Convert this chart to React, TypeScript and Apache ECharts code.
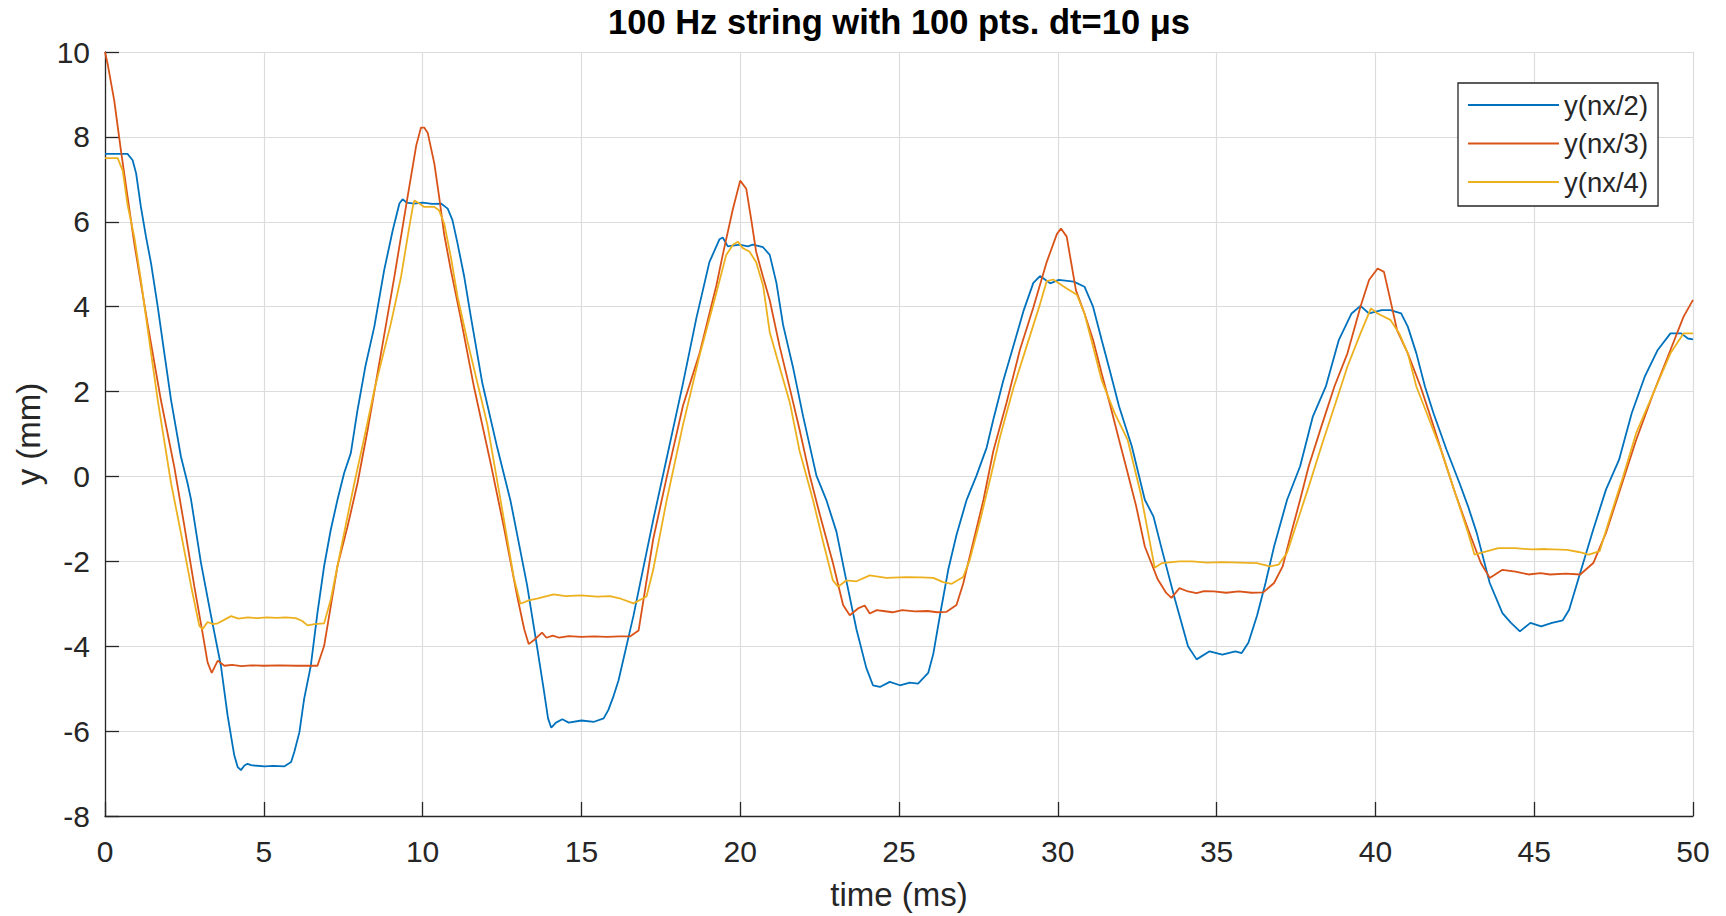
import React, { useEffect, useRef } from "react";
import * as echarts from "echarts";

const titleText = "100 Hz string with 100 pts. dt=10 \u03bcs";
const xName = "time (ms)";
const yName = "y (mm)";
const seriesNames = ["y(nx/2)", "y(nx/3)", "y(nx/4)"];
const seriesColors = ["#0072BD", "#D95319", "#EDB120"];

// y(nx/2): [time ms, y mm]
const ynx2: [number, number][] = [
  [0, 7.6], [0.4, 7.6], [0.71, 7.6], [0.87, 7.45], [0.98, 7.14], [1.13, 6.35], [1.29, 5.65], [1.45, 5.02],
  [1.66, 4.0], [1.85, 3.0], [2.08, 1.8], [2.39, 0.47], [2.6, -0.16], [2.71, -0.55], [3.02, -2.03], [3.34, -3.29],
  [3.65, -4.46], [3.86, -5.63], [4.07, -6.57], [4.18, -6.85], [4.28, -6.92], [4.39, -6.81], [4.49, -6.77],
  [4.6, -6.8], [4.7, -6.81], [5.02, -6.83], [5.3, -6.82], [5.65, -6.83], [5.86, -6.73], [5.96, -6.49],
  [6.12, -6.03], [6.27, -5.24], [6.48, -4.46], [6.69, -3.21], [6.9, -2.11], [7.11, -1.25], [7.32, -0.55],
  [7.53, 0.08], [7.74, 0.55], [7.95, 1.56], [8.2, 2.6], [8.48, 3.53], [8.79, 4.86], [9.06, 5.8], [9.27, 6.43],
  [9.37, 6.53], [9.5, 6.45], [9.74, 6.43], [10.0, 6.45], [10.3, 6.42], [10.58, 6.43], [10.79, 6.31],
  [10.94, 6.04], [11.1, 5.49], [11.31, 4.71], [11.52, 3.76], [11.88, 2.2], [12.35, 0.68], [12.77, -0.58],
  [13.29, -2.56], [13.6, -4.0], [13.81, -5.0], [13.95, -5.7], [14.05, -5.92], [14.2, -5.8], [14.4, -5.72],
  [14.6, -5.8], [15.0, -5.75], [15.4, -5.78], [15.7, -5.7], [15.85, -5.5], [16.0, -5.2], [16.17, -4.8],
  [16.64, -3.28], [17.26, -1.03], [17.68, 0.41], [18.2, 2.2], [18.62, 3.73], [19.03, 5.05], [19.35, 5.59],
  [19.45, 5.63], [19.61, 5.42], [19.98, 5.46], [20.24, 5.42], [20.4, 5.46], [20.72, 5.4], [20.93, 5.22],
  [21.14, 4.56], [21.35, 3.57], [21.66, 2.58], [21.98, 1.42], [22.4, 0.02], [22.71, -0.55], [23.03, -1.3],
  [23.34, -2.45], [23.66, -3.6], [23.97, -4.51], [24.18, -4.92], [24.4, -4.96], [24.71, -4.84], [25.03, -4.92],
  [25.34, -4.86], [25.6, -4.88], [25.92, -4.63], [26.08, -4.18], [26.29, -3.27], [26.55, -2.2], [26.81, -1.38],
  [27.13, -0.55], [27.44, 0.02], [27.76, 0.68], [27.97, 1.34], [28.28, 2.25], [28.6, 3.07], [28.92, 3.9],
  [29.23, 4.56], [29.44, 4.72], [29.76, 4.55], [30.03, 4.63], [30.5, 4.59], [30.84, 4.47], [31.11, 4.0],
  [31.38, 3.22], [31.66, 2.43], [31.93, 1.65], [32.33, 0.71], [32.74, -0.55], [33.01, -0.94], [33.28, -1.73],
  [33.69, -2.9], [34.1, -4.0], [34.37, -4.31], [34.78, -4.12], [35.18, -4.2], [35.59, -4.12], [35.79, -4.16],
  [36.0, -3.92], [36.27, -3.29], [36.54, -2.51], [36.81, -1.65], [37.22, -0.55], [37.63, 0.24], [38.03, 1.41],
  [38.44, 2.12], [38.85, 3.22], [39.25, 3.84], [39.53, 4.02], [39.8, 3.84], [40.2, 3.92], [40.47, 3.92],
  [40.81, 3.84], [41.02, 3.53], [41.29, 2.9], [41.56, 2.12], [41.83, 1.49], [42.24, 0.63], [42.65, -0.16],
  [42.92, -0.71], [43.19, -1.33], [43.6, -2.51], [44.0, -3.22], [44.27, -3.45], [44.55, -3.65], [44.88, -3.45],
  [45.22, -3.53], [45.56, -3.45], [45.9, -3.39], [46.1, -3.14], [46.45, -2.27], [46.86, -1.25], [47.26, -0.31],
  [47.67, 0.39], [48.07, 1.49], [48.48, 2.35], [48.89, 2.98], [49.29, 3.37], [49.63, 3.37], [49.84, 3.25],
  [50, 3.23],
];

// y(nx/3)
const ynx3: [number, number][] = [
  [0, 10], [0.08, 9.73], [0.29, 8.86], [0.5, 7.69], [0.71, 6.59], [0.92, 5.5], [1.13, 4.55], [1.34, 3.6],
  [1.76, 1.8], [2.18, 0.23], [2.5, -1.17], [2.81, -2.58], [3.07, -3.68], [3.23, -4.38], [3.36, -4.63],
  [3.55, -4.34], [3.76, -4.46], [4.0, -4.44], [4.3, -4.47], [4.6, -4.45], [5.0, -4.46], [5.5, -4.45],
  [6.0, -4.46], [6.4, -4.46], [6.69, -4.46], [6.9, -3.99], [7.11, -3.05], [7.32, -2.11], [7.64, -1.17],
  [7.95, -0.16], [8.27, 1.1], [8.69, 2.9], [9.11, 4.7], [9.53, 6.6], [9.8, 7.8], [9.95, 8.22], [10.05, 8.22],
  [10.16, 8.1], [10.37, 7.37], [10.52, 6.59], [10.68, 5.7], [10.89, 4.86], [11.2, 3.73], [11.62, 2.1],
  [12.14, 0.32], [12.56, -1.2], [12.98, -2.83], [13.2, -3.6], [13.34, -3.95], [13.5, -3.86], [13.76, -3.68],
  [13.9, -3.8], [14.1, -3.75], [14.3, -3.8], [14.6, -3.76], [15.0, -3.78], [15.4, -3.77], [15.8, -3.78],
  [16.2, -3.77], [16.53, -3.77], [16.8, -3.63], [17.26, -1.48], [17.68, -0.04], [18.2, 1.67], [18.72, 2.9],
  [19.25, 4.5], [19.45, 5.22], [19.77, 6.3], [20.0, 6.97], [20.19, 6.78], [20.35, 6.04], [20.5, 5.3],
  [20.72, 4.7], [20.93, 4.15], [21.24, 3.07], [21.56, 2.08], [21.87, 1.1], [22.19, 0.02], [22.5, -0.88],
  [22.92, -2.04], [23.24, -3.03], [23.45, -3.27], [23.71, -3.11], [23.92, -3.04], [24.08, -3.23], [24.3, -3.15],
  [24.5, -3.17], [24.8, -3.2], [25.1, -3.15], [25.5, -3.18], [25.9, -3.17], [26.2, -3.2], [26.5, -3.19],
  [26.81, -3.03], [27.02, -2.53], [27.34, -1.54], [27.66, -0.55], [27.97, 0.6], [28.39, 1.75], [28.81, 2.99],
  [29.23, 3.98], [29.65, 5.05], [29.97, 5.71], [30.1, 5.84], [30.28, 5.65], [30.43, 5.0], [30.57, 4.39],
  [30.84, 3.84], [31.11, 3.22], [31.38, 2.43], [31.66, 1.65], [31.93, 0.86], [32.2, 0.08], [32.47, -0.71],
  [32.74, -1.65], [33.15, -2.43], [33.42, -2.75], [33.58, -2.86], [33.83, -2.63], [34.1, -2.71], [34.37, -2.75],
  [34.6, -2.7], [34.91, -2.71], [35.3, -2.74], [35.7, -2.71], [36.1, -2.74], [36.47, -2.73], [36.81, -2.51],
  [37.08, -2.12], [37.35, -1.33], [37.63, -0.55], [37.9, 0.24], [38.3, 1.18], [38.71, 2.12], [39.12, 2.9],
  [39.53, 4.0], [39.8, 4.63], [40.07, 4.9], [40.27, 4.82], [40.47, 4.16], [40.68, 3.45], [41.02, 2.9],
  [41.42, 2.12], [41.7, 1.49], [42.1, 0.55], [42.51, -0.39], [42.92, -1.25], [43.32, -2.04], [43.6, -2.39],
  [44.0, -2.2], [44.41, -2.24], [44.82, -2.31], [45.2, -2.28], [45.5, -2.31], [46.0, -2.29], [46.45, -2.31],
  [46.86, -2.04], [47.26, -1.33], [47.67, -0.39], [48.21, 0.86], [48.75, 1.96], [49.29, 2.98], [49.7, 3.76],
  [50, 4.16],
];

// y(nx/4)
const ynx4: [number, number][] = [
  [0, 7.5], [0.4, 7.5], [0.56, 7.2], [0.71, 6.4], [0.92, 5.65], [1.13, 4.63], [1.29, 3.76], [1.66, 1.8],
  [2.08, -0.16], [2.39, -1.33], [2.71, -2.58], [2.97, -3.52], [3.07, -3.6], [3.23, -3.43], [3.4, -3.48],
  [3.55, -3.46], [3.75, -3.38], [3.97, -3.29], [4.2, -3.35], [4.5, -3.32], [4.8, -3.34], [5.1, -3.32],
  [5.4, -3.33], [5.7, -3.32], [6.0, -3.34], [6.2, -3.4], [6.38, -3.51], [6.6, -3.48], [6.9, -3.46],
  [7.11, -2.9], [7.32, -2.11], [7.53, -1.33], [7.85, -0.16], [8.16, 0.9], [8.5, 2.1], [9.0, 3.6],
  [9.32, 4.7], [9.53, 5.65], [9.69, 6.35], [9.74, 6.5], [9.9, 6.43], [10.05, 6.35], [10.37, 6.35],
  [10.52, 6.27], [10.68, 5.96], [10.89, 5.17], [11.1, 4.24], [11.41, 3.19], [12.04, 1.22], [12.46, -0.58],
  [12.87, -2.38], [13.08, -3.0], [13.34, -2.92], [13.6, -2.88], [14.13, -2.78], [14.5, -2.82], [15.0, -2.8],
  [15.5, -2.83], [15.9, -2.82], [16.2, -2.87], [16.64, -2.99], [17.05, -2.83], [17.26, -2.2], [17.68, -0.58],
  [18.2, 1.22], [18.72, 2.85], [19.24, 4.3], [19.56, 5.22], [19.77, 5.46], [19.93, 5.53], [20.08, 5.38],
  [20.29, 5.3], [20.5, 5.05], [20.72, 4.5], [20.93, 3.4], [21.24, 2.58], [21.56, 1.75], [21.87, 0.6],
  [22.29, -0.55], [22.61, -1.54], [22.92, -2.45], [23.08, -2.6], [23.34, -2.45], [23.66, -2.47], [24.08, -2.33],
  [24.6, -2.39], [25.24, -2.37], [25.7, -2.38], [26.08, -2.39], [26.39, -2.49], [26.66, -2.53], [27.02, -2.37],
  [27.23, -1.96], [27.55, -1.05], [27.87, -0.06], [28.18, 0.93], [28.6, 2.08], [29.02, 3.07], [29.44, 4.06],
  [29.65, 4.6], [29.86, 4.64], [30.02, 4.56], [30.28, 4.43], [30.6, 4.28], [30.84, 3.84], [31.11, 3.06],
  [31.38, 2.27], [31.79, 1.49], [32.2, 0.86], [32.61, -0.4], [33.05, -2.15], [33.28, -2.04], [33.83, -2.0],
  [34.23, -2.0], [34.7, -2.03], [35.18, -2.02], [35.7, -2.03], [36.27, -2.04], [36.68, -2.12], [36.95, -2.08],
  [37.22, -1.8], [37.49, -1.18], [37.9, -0.24], [38.3, 0.71], [38.71, 1.65], [39.12, 2.59], [39.53, 3.37],
  [39.86, 3.96], [40.07, 3.84], [40.47, 3.69], [40.75, 3.37], [41.02, 2.9], [41.29, 2.12], [41.7, 1.33],
  [42.1, 0.55], [42.51, -0.39], [42.92, -1.33], [43.12, -1.84], [43.32, -1.8], [43.87, -1.69], [44.41, -1.69],
  [44.9, -1.72], [45.36, -1.71], [46.04, -1.73], [46.4, -1.78], [46.72, -1.84], [47.06, -1.76], [47.4, -0.94],
  [47.8, 0.0], [48.21, 1.02], [48.75, 1.96], [49.29, 2.9], [49.7, 3.37], [50, 3.37],
];

const seriesData = [ynx2, ynx3, ynx4];

const FONT = "'Liberation Sans', Arial, Helvetica, sans-serif";
const AXIS_COLOR = "#262626";

export default function App() {
  const ref = useRef<HTMLDivElement>(null);

  useEffect(() => {
    if (!ref.current) return;
    const chart = echarts.init(ref.current, undefined, { renderer: "svg" });
    const option: any = {
      animation: false,
      backgroundColor: "#ffffff",
      color: seriesColors,
      grid: { left: 105, right: 33, top: 52, bottom: 100, containLabel: false },
      graphic: [
        {
          type: "text",
          x: 899,
          y: 22,
          style: {
            text: titleText,
            fontSize: 34.5,
            fontWeight: "bold",
            fontFamily: FONT,
            fill: "#000000",
            textAlign: "center",
            textVerticalAlign: "middle",
            align: "center",
            verticalAlign: "middle",
          },
        },
      ],
      xAxis: {
        type: "value",
        min: 0,
        max: 50,
        interval: 5,
        name: xName,
        nameLocation: "middle",
        nameGap: 62,
        nameTextStyle: { fontSize: 33, color: AXIS_COLOR, fontFamily: FONT },
        axisLine: { show: true, onZero: false, lineStyle: { color: AXIS_COLOR, width: 1.3 } },
        axisTick: { show: true, inside: true, length: 14, lineStyle: { color: AXIS_COLOR, width: 1.3 } },
        axisLabel: { fontSize: 30, color: AXIS_COLOR, margin: 20, fontFamily: FONT },
        splitLine: { show: true, lineStyle: { color: "#dcdcdc", width: 1.2 } },
      },
      yAxis: {
        type: "value",
        min: -8,
        max: 10,
        interval: 2,
        name: yName,
        nameLocation: "middle",
        nameRotate: 90,
        nameGap: 60,
        nameTextStyle: { fontSize: 33, color: AXIS_COLOR, fontFamily: FONT },
        axisLine: { show: true, onZero: false, lineStyle: { color: AXIS_COLOR, width: 1.3 } },
        axisTick: { show: true, inside: true, length: 14, lineStyle: { color: AXIS_COLOR, width: 1.3 } },
        axisLabel: { fontSize: 30, color: AXIS_COLOR, margin: 15, fontFamily: FONT },
        splitLine: { show: true, lineStyle: { color: "#dcdcdc", width: 1.2 } },
      },
      legend: {
        show: true,
        orient: "vertical",
        left: 1458,
        top: 83,
        padding: [7, 10, 9, 10],
        itemGap: 8.5,
        itemWidth: 91,
        itemHeight: 2,
        icon: "rect",
        borderColor: AXIS_COLOR,
        borderWidth: 1.3,
        borderRadius: 0,
        backgroundColor: "#ffffff",
        selectedMode: false,
        data: seriesNames,
        textStyle: { fontSize: 27.5, color: AXIS_COLOR, fontFamily: FONT, lineHeight: 30 },
      },
      series: seriesNames.map((name, i) => ({
        name,
        type: "line",
        data: seriesData[i],
        symbol: "none",
        showSymbol: false,
        smooth: false,
        silent: true,
        lineStyle: { color: seriesColors[i], width: 1.8 },
        itemStyle: { color: seriesColors[i] },
        z: 2 + i,
      })),
    };
    chart.setOption(option);
    return () => {
      chart.dispose();
    };
  }, []);

  return (
    <div
      ref={ref}
      style={{ position: "absolute", left: 0, top: 0, width: 1726, height: 916, background: "#fff" }}
    />
  );
}
